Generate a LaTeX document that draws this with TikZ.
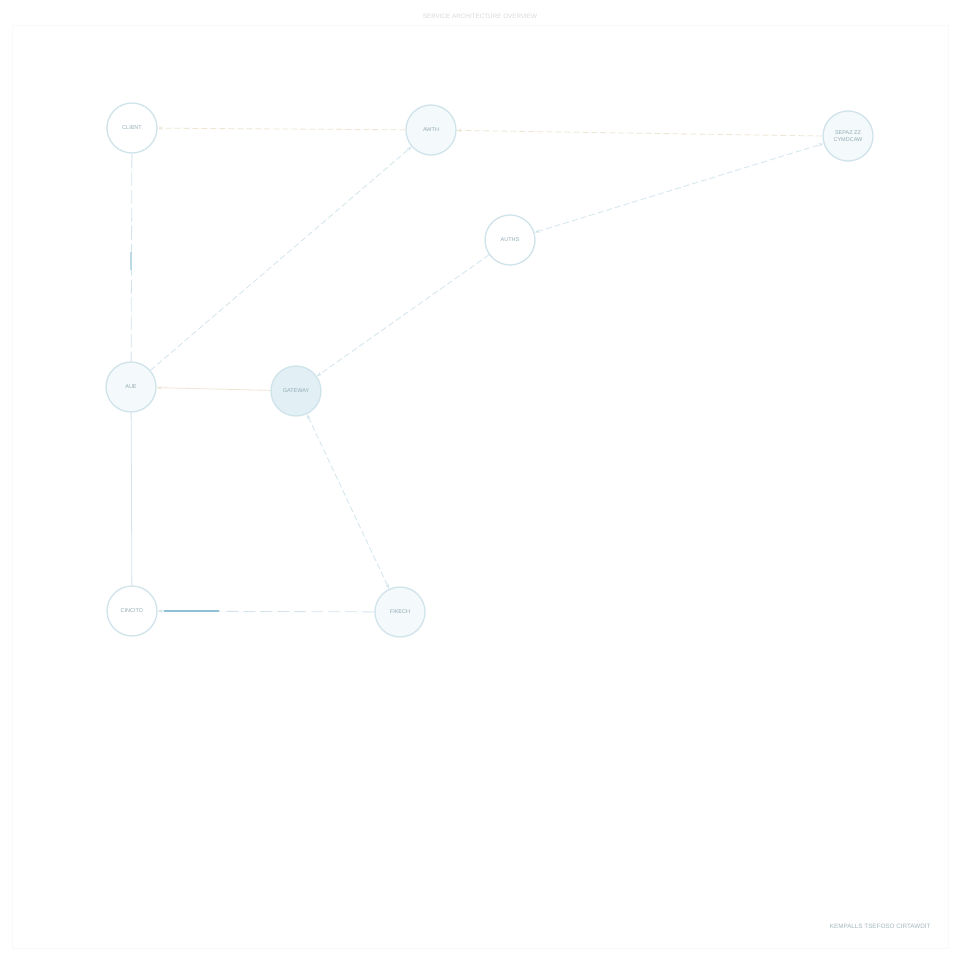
\documentclass[tikz,border=0pt]{standalone}
\usepackage{fontspec}
\setmainfont{Liberation Sans}
\usetikzlibrary{arrows.meta}
\definecolor{ring}{HTML}{CFE3EA}
\definecolor{fillA}{HTML}{F4F9FB}
\definecolor{fillG}{HTML}{E2F0F6}
\definecolor{txt}{HTML}{93ABB4}
\definecolor{lineB}{HTML}{D3E5EC}
\definecolor{lineW}{HTML}{EDE6D2}
\definecolor{lineD}{HTML}{8FC0D6}
\begin{document}
\begin{tikzpicture}[x=1pt,y=-1pt,
  svc/.style={circle,draw=ring,line width=1.3pt,fill=white,minimum size=50pt,inner sep=0pt,
    font=\fontsize{5.5}{6.5}\selectfont,text=txt,align=center},
  svcf/.style={svc,fill=fillA},
  tip/.style={Stealth[length=5pt,width=3.5pt]},
  conn/.style={draw=lineB,line width=0.8pt,-{Stealth[length=5pt,width=3.5pt]}},
  dconn/.style={conn,dash pattern=on 6pt off 3pt},
  wconn/.style={conn,draw=lineW,dash pattern=on 6pt off 3pt},
  foot/.style={font=\fontsize{6.3}{7}\selectfont,text=txt!85}
]
\useasboundingbox (0,0) rectangle (960,960);
\fill[white] (0,0) rectangle (960,960);
\draw[draw=black!2.5,line width=0.6pt] (12,25) rectangle (948,948);
\node[foot,text=black!15] (title) at (480,16) {SERVICE ARCHITECTURE OVERVIEW};

\node[svc]  (client)  at (132,128) {CLIENT};
\node[svcf] (awth)    at (431,130) {AWTH};
\node[svcf] (seraz)   at (848,136) {SEPAZ ZZ\\CYMDCAW};
\node[svc]  (auths)   at (510,240) {AUTHS};
\node[svcf] (aue)     at (131,387) {AUE};
\node[svc,fill=fillG] (gateway) at (296,391) {GATEWAY};
\node[svc]  (cincito) at (132,611) {CINCITO};
\node[svcf] (fikech)  at (400,612) {FIKECH};

% connectors
\draw[wconn] (awth) -- (client);
\draw[wconn] (seraz.west) -- (awth);
\draw[dconn] (aue) -- (awth);
\draw[dconn,{Stealth[length=5pt,width=3.5pt]}-{Stealth[length=5pt,width=3.5pt]}] (auths) -- (seraz);
\draw[dconn] (auths) -- (gateway);
\draw[conn,draw=lineW] (gateway) -- (aue);
\draw[dconn,{Stealth[length=5pt,width=3.5pt]}-{Stealth[length=5pt,width=3.5pt]}] (gateway) -- (fikech);
\draw[dconn,dash pattern=on 12pt off 5pt] (fikech) -- (cincito);
\draw[draw=lineD,line width=1.6pt] (cincito.east) ++(6,0) coordinate (c1) -- ++(55,0) coordinate (c2);
\draw[draw=lineB,line width=0.8pt,dash pattern=on 14pt off 4pt] (client) -- (aue);
\draw[draw=lineD!60,line width=1.1pt] (131,252) -- (131,270);
\draw[draw=lineB,line width=0.8pt] (aue) -- (cincito);

\node[foot,anchor=east] (footer) at (934,926) {KEMPALLS TSEFOSO CIRTAWDIT};
\end{tikzpicture}
\end{document}
